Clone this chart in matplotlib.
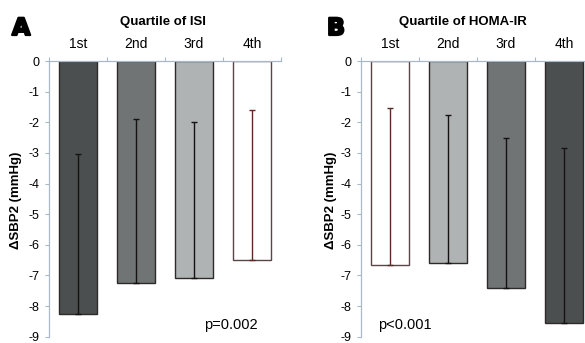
import numpy as np
import matplotlib
matplotlib.use("Agg")
import matplotlib.pyplot as plt
import matplotlib.patheffects as pe

plt.rcParams["font.family"] = ["Liberation Sans", "DejaVu Sans"]
plt.rcParams["axes.unicode_minus"] = False

QUARTILES = ["1st", "2nd", "3rd", "4th"]
Y_TICKS = [0, -1, -2, -3, -4, -5, -6, -7, -8, -9]

# mean change in SBP2 per quartile and the upper end of each error bar
ISI_MEAN = [-8.25, -7.25, -7.1, -6.5]
ISI_UPPER = [-3.05, -1.9, -2.0, -1.6]
HOMA_MEAN = [-6.65, -6.6, -7.4, -8.55]
HOMA_UPPER = [-1.55, -1.75, -2.5, -2.85]

ISI_COLORS = ["#4c4f4f", "#717474", "#b0b3b3", "#ffffff"]
HOMA_COLORS = ["#ffffff", "#b0b3b3", "#717474", "#4c4f4f"]

SPINE = "#a9b9c9"
W, H = 585, 343


def draw_panel(ax, means, upper, colors, pval, pval_x):
    x = np.arange(len(QUARTILES))
    means = np.array(means)
    upper = np.array(upper)
    edge = ["#5a4646" if c == "#ffffff" else "#2e2a2a" for c in colors]
    ax.bar(x, means, width=0.66, color=colors, edgecolor=edge, linewidth=1.0, zorder=2)
    for xi, m, u, c in zip(x, means, upper, colors):
        ecol = "#5a2a26" if c == "#ffffff" else "#141212"
        ax.errorbar(xi, m, yerr=[[0], [u - m]], fmt="none", ecolor=ecol,
                    elinewidth=1.0, capsize=2.3, capthick=1.0, zorder=3)

    ax.set_xlim(-0.5, 3.5)
    ax.set_ylim(-9, 0)
    ax.set_yticks(Y_TICKS)
    ax.set_yticklabels([str(t) for t in Y_TICKS])
    ax.tick_params(axis="y", direction="out", length=3, width=0.8, color=SPINE,
                   labelsize=9, pad=4)

    ax.xaxis.tick_top()
    ax.set_xticks(x)
    ax.set_xticklabels(QUARTILES)
    ax.set_xticks(np.arange(-0.5, 4.0, 1.0), minor=True)
    ax.tick_params(axis="x", which="major", length=0, labelsize=10, pad=7)
    ax.tick_params(axis="x", which="minor", direction="out", length=3, width=0.8,
                   color=SPINE, top=True, bottom=False)

    for side in ["right", "bottom"]:
        ax.spines[side].set_visible(False)
    for side in ["left", "top"]:
        ax.spines[side].set_color(SPINE)
        ax.spines[side].set_linewidth(0.9)

    ax.text(pval_x, -8.63, pval, fontsize=10.5, ha="left", va="center")


fig = plt.figure(figsize=(W / 100, H / 100), dpi=100)
ax_a = fig.add_axes([49 / W, 1 - 336.7 / H, 232 / W, (336.7 - 61) / H])
ax_b = fig.add_axes([361 / W, 1 - 336.7 / H, 232 / W, (336.7 - 61) / H])

draw_panel(ax_a, ISI_MEAN, ISI_UPPER, ISI_COLORS, "p=0.002", 2.17)
draw_panel(ax_b, HOMA_MEAN, HOMA_UPPER, HOMA_COLORS, "p<0.001", -0.21)

# heavy panel letters
heavy = [pe.Stroke(linewidth=1.6, foreground="black"), pe.Normal()]
fig.text(12 / W, 1 - 28 / H, "A", fontsize=17, fontweight="heavy",
         family="DejaVu Sans", ha="left", va="center", path_effects=heavy)
fig.text(327 / W, 1 - 28 / H, "B", fontsize=17, fontweight="heavy",
         family="DejaVu Sans", ha="left", va="center", path_effects=heavy)

fig.text(163 / W, 1 - 22.5 / H, "Quartile of ISI", fontsize=9.5,
         fontweight="bold", ha="center", va="center")
fig.text(463 / W, 1 - 22.5 / H, "Quartile of HOMA-IR", fontsize=9.5,
         fontweight="bold", ha="center", va="center")

for xpos in (16, 331):
    fig.text(xpos / W, 1 - 200 / H, "ΔSBP2 (mmHg)", fontsize=9.5, fontweight="bold",
             rotation=90, ha="center", va="center")

fig.savefig("out.png", dpi=100)
